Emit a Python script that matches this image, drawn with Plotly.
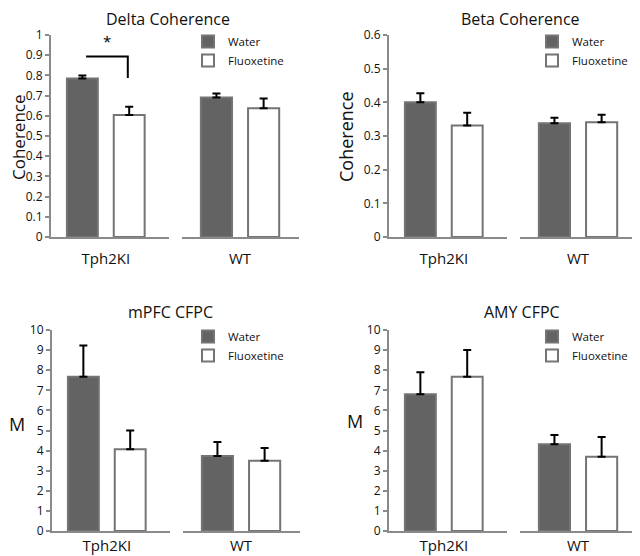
import plotly.graph_objects as go

# ---------------- data ----------------
groups = ["Tph2KI", "WT"]
treatments = ["Water", "Fluoxetine"]
panel_titles = ["Delta Coherence", "Beta Coherence", "mPFC CFPC", "AMY CFPC"]
y_titles = ["Coherence", "Coherence", "M", "M"]
y_max = [1.0, 0.6, 10, 10]
y_dtick = [0.1, 0.1, 1, 1]

# means / error (upper) indexed [group][treatment]
delta_mean = [[0.785, 0.604], [0.690, 0.637]]
delta_err = [[0.014, 0.041], [0.021, 0.049]]
beta_mean = [[0.400, 0.331], [0.338, 0.341]]
beta_err = [[0.027, 0.038], [0.016, 0.022]]
mpfc_mean = [[7.67, 4.07], [3.73, 3.50]]
mpfc_err = [[1.56, 0.93], [0.70, 0.63]]
amy_mean = [[6.80, 7.67], [4.32, 3.70]]
amy_err = [[1.10, 1.33], [0.46, 0.98]]

means = [delta_mean, beta_mean, mpfc_mean, amy_mean]
errs = [delta_err, beta_err, mpfc_err, amy_err]

# significance bracket (Delta, Tph2KI: Water vs Fluoxetine)
sig_panel = 0
sig_group = 0
sig_height = 0.893
sig_drop = 0.787
sig_label = "*"

# ---------------- styling / layout ----------------
PAGE_MARGIN = 8            # default body margin of the html page
W, H = 640 - PAGE_MARGIN, 556 - PAGE_MARGIN
FONT = "Open Sans"
water_fill = "#636363"
edge = "#747474"
axis_col = "#8a8a8a"

# positions below are in window pixels
panel_left = [51, 389, 52, 389]        # px of y axis
panel_top = [35, 35, 330, 330]          # px of ymax
panel_bottom = [237, 237, 531, 531]     # px of y=0
seg_w = [118, 117]
seg_gap = 13
x_ranges = [[-0.67, 1.85], [-0.73, 1.75]]
label_standoff = [7, 7, 0, 0]

title_pos = [(168, 19), (520, 19), (170, 312), (522, 312)]
ytitle_pos = [(18, 137, -90), (346, 137, -90), (17, 424, 0), (355, 421, 0)]
ytitle_size = [17, 18, 18, 18]
legend_pos = [(188, 27), (532, 27), (188, 322), (532, 322)]

def px_x(v):
    return (v - PAGE_MARGIN) / W

def px_y(v):
    return 1 - (v - PAGE_MARGIN) / H

fig = go.Figure()
layout = {}
annotations = []

for p in range(4):
    legend_name = "legend" if p == 0 else f"legend{p+1}"
    x0 = panel_left[p]
    for g in range(2):
        k = p * 2 + g + 1
        xs = x0 if g == 0 else x0 + seg_w[0] + seg_gap
        xdom = [px_x(xs), px_x(xs + seg_w[g])]
        ydom = [px_y(panel_bottom[p]), px_y(panel_top[p])]
        xa = "xaxis" if k == 1 else f"xaxis{k}"
        ya = "yaxis" if k == 1 else f"yaxis{k}"
        layout[xa] = dict(
            domain=xdom, anchor=f"y{k}", range=x_ranges[g],
            showline=True, linecolor=axis_col, linewidth=2,
            showgrid=False, zeroline=False,
            tickvals=[0.5], ticktext=[groups[g]], ticks="",
            ticklabelstandoff=label_standoff[p],
            tickfont=dict(family=FONT, size=15, color="#111"),
            fixedrange=True,
        )
        layout[ya] = dict(
            domain=ydom, anchor=f"x{k}", range=[0, y_max[p]],
            showgrid=False, zeroline=False, fixedrange=True,
        )
        if g == 0:
            layout[ya].update(
                showline=True, linecolor=axis_col, linewidth=2,
                ticks="outside", ticklen=4, tickwidth=1.5, tickcolor=axis_col,
                dtick=y_dtick[p], tick0=0,
                tickfont=dict(family=FONT, size=12, color="#111"),
            )
        else:
            layout[ya].update(showline=False, showticklabels=False, ticks="")
        for t in range(2):
            fill = water_fill if t == 0 else "white"
            fig.add_trace(go.Bar(
                x=[t], y=[means[p][g][t]], width=0.66,
                name=treatments[t],
                marker=dict(color=fill, line=dict(color=edge, width=2)),
                error_y=dict(type="data", symmetric=False,
                             array=[errs[p][g][t]], arrayminus=[0],
                             color="black", thickness=2, width=4),
                xaxis=f"x{k}", yaxis=f"y{k}",
                showlegend=(g == 0), legend=legend_name,
            ))
        if p == sig_panel and g == sig_group:
            fig.add_trace(go.Scatter(
                x=[0.08, 0.97, 0.97], y=[sig_height, sig_height, sig_drop],
                mode="lines", line=dict(color="black", width=2),
                xaxis=f"x{k}", yaxis=f"y{k}", showlegend=False, hoverinfo="skip",
            ))
            annotations.append(dict(
                x=0.52, y=sig_height + 0.075, xref=f"x{k}", yref=f"y{k}",
                text=sig_label, showarrow=False,
                font=dict(family=FONT, size=15, color="black"),
            ))
    lx, ly = legend_pos[p]
    layout[legend_name] = dict(
        x=px_x(lx), y=px_y(ly), xanchor="left", yanchor="top",
        font=dict(family=FONT, size=11.5, color="#111"),
        bgcolor="rgba(0,0,0,0)", tracegroupgap=0, itemclick=False,
    )
    tx, ty = title_pos[p]
    annotations.append(dict(
        x=px_x(tx), y=px_y(ty), xref="paper", yref="paper",
        text=panel_titles[p], showarrow=False, xanchor="center", yanchor="middle",
        font=dict(family=FONT, size=16, color="#111"),
    ))
    ax, ay, ang = ytitle_pos[p]
    annotations.append(dict(
        x=px_x(ax), y=px_y(ay), xref="paper", yref="paper",
        text=y_titles[p], showarrow=False, xanchor="center", yanchor="middle",
        textangle=ang,
        font=dict(family=FONT, size=ytitle_size[p], color="#111"),
    ))

fig.update_layout(
    width=W, height=H, margin=dict(l=0, r=0, t=0, b=0, autoexpand=False),
    paper_bgcolor="white", plot_bgcolor="white",
    barmode="overlay", annotations=annotations, **layout,
)

fig.write_html("out.html")
